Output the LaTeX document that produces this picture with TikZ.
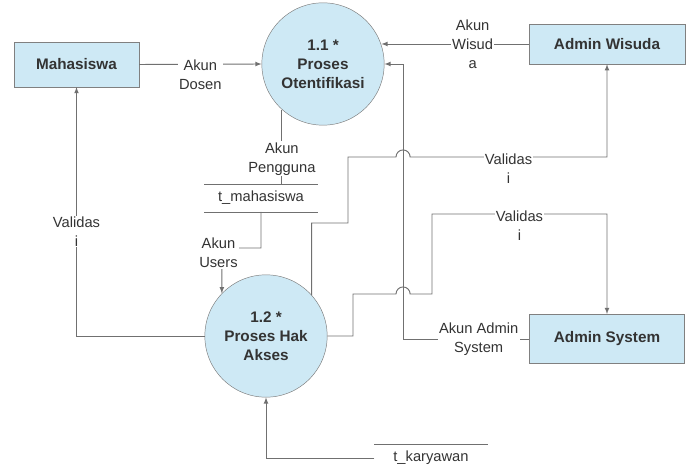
\documentclass[tikz,border=0pt]{standalone}
\usepackage{fontspec}
\setmainfont{Liberation Sans}
\usetikzlibrary{arrows}

\definecolor{procfill}{RGB}{206,233,245}
\definecolor{linegray}{RGB}{112,112,112}
\definecolor{textdark}{RGB}{51,51,51}

\begin{document}
\begin{tikzpicture}[x=0.85pt,y=-0.85pt,>=latex,
  proc/.style={draw=gray, fill=procfill, circle, minimum size=104pt, inner sep=0pt,
    align=center, text=textdark, font=\fontsize{13}{16}\selectfont\bfseries},
  entity/.style={draw=gray, fill=procfill, rectangle, inner sep=0pt,
    text=textdark, font=\fontsize{13}{16}\selectfont\bfseries},
  store/.style={minimum width=96pt, minimum height=23pt, inner sep=0pt,
    text=textdark, font=\fontsize{12.5}{15}\selectfont},
  lbl/.style={fill=white, inner sep=1pt, align=center, text=textdark,
    font=\fontsize{12.5}{16}\selectfont},
  flow/.style={draw=linegray, line width=0.8pt}]
\useasboundingbox (0,0) rectangle (693,472);

\node[proc] at (323,64) (p11) {1.1 *\\Proses\\Otentifikasi};
\node[proc] at (266,336) (p12) {1.2 *\\Proses Hak\\Akses};
\node[entity, minimum width=106pt, minimum height=38pt] at (76.5,64.5) (mhs) {Mahasiswa};
\node[entity, minimum width=133pt, minimum height=34pt] at (607,44) (aw) {Admin Wisuda};
\node[entity, minimum width=132pt, minimum height=42pt] at (607,339) (as) {Admin System};
\node[store] at (261,198) (ds1) {t\_mahasiswa};
\node[store] at (431,458) (ds2) {t\_karyawan};
\draw[linegray] (ds1.north west) -- (ds1.north east) (ds1.south west) -- (ds1.south east);
\draw[linegray] (ds2.north west) -- (ds2.north east) (ds2.south west) -- (ds2.south east);

\coordinate (jx) at (403,64);
\coordinate (ku) at (222,248);

\draw[flow,->] (mhs.east) -- node[lbl,yshift=-9pt] {Akun\\Dosen} (p11.west);
\draw[flow,->] (aw.west) -- node[lbl,pos=.38] {Akun\\Wisud\\a} (aw.west -| p11.18);
\draw[flow,->] (as.west) -| node[lbl,pos=.2] {Akun Admin\\System} (jx) -- (p11.east);

\draw[flow] (p11.228) -- node[lbl,pos=.66] {Akun\\Pengguna} (p11.228 |- ds1.north);
\draw[flow,->] (ds1.south) |- (ku) node[lbl,xshift=-3pt,yshift=-4pt] {Akun\\Users}
  -- (p12.136);

\draw[flow,->] (p12.42) |- (348,223) |- (396,157)
  arc[start angle=180, end angle=0, radius=6pt]
  -| node[lbl,pos=.25,yshift=-10pt] {Validas\\i} (aw.south);
\draw[flow,->] (p12.east) -| (353,294) -- (396,294)
  arc[start angle=180, end angle=0, radius=6pt] -- (432,294) -- (432,214)
  -| node[lbl,pos=.25,yshift=-10pt] {Validas\\i} (as.north);
\draw[flow,->] (p12.west) -| node[lbl,pos=.71] {Validas\\i} (mhs.south);

\draw[flow,->] (ds2.west) -| (p12.south);
\end{tikzpicture}
\end{document}
